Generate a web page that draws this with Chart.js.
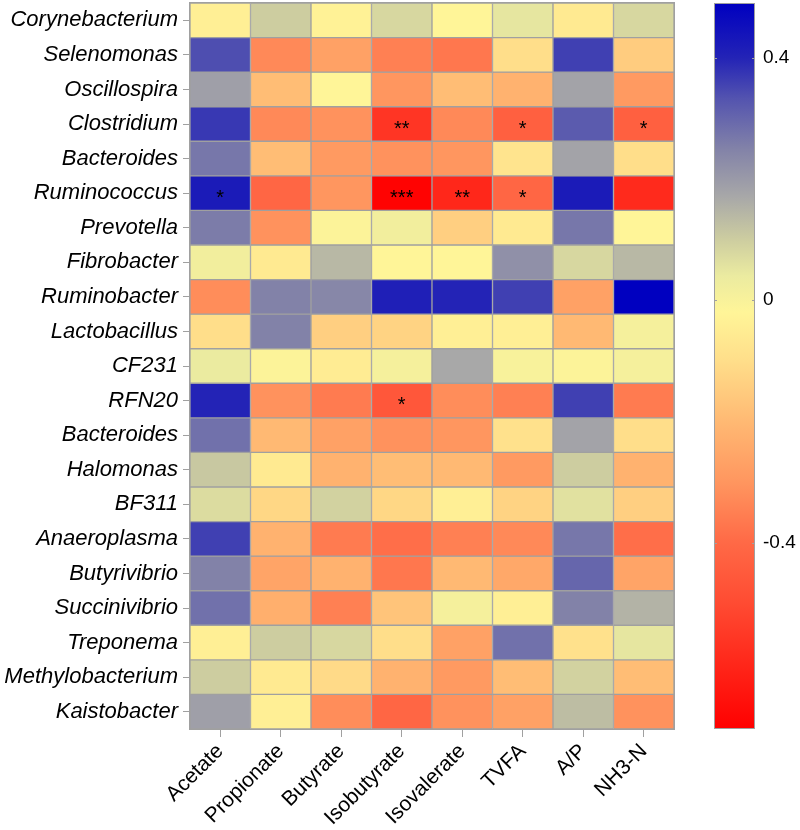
<!DOCTYPE html>
<html>
<head>
<meta charset="utf-8">
<script src="https://cdn.jsdelivr.net/npm/chart.js@4"></script>
<style>
  body { margin: 0; background: #fff; }
  #wrap { width: 800px; height: 830px; }
</style>
</head>
<body>
<div id="wrap"><canvas id="heat"></canvas></div>
<script>
// genera (rows, top to bottom)
const rowNames = ["Corynebacterium", "Selenomonas", "Oscillospira", "Clostridium", "Bacteroides",
  "Ruminococcus", "Prevotella", "Fibrobacter", "Ruminobacter", "Lactobacillus", "CF231", "RFN20",
  "Bacteroides", "Halomonas", "BF311", "Anaeroplasma", "Butyrivibrio", "Succinivibrio",
  "Treponema", "Methylobacterium", "Kaistobacter"];
const colNames = ["Acetate", "Propionate", "Butyrate", "Isobutyrate", "Isovalerate", "TVFA", "A/P", "NH3-N"];

// correlation per column, one value per row
const acetate     = [-0.04, 0.34, 0.19, 0.37, 0.27, 0.42, 0.26, 0.02, -0.32, -0.10, 0.04, 0.40, 0.28, 0.11, 0.07, 0.36, 0.25, 0.28, -0.04, 0.10, 0.19];
const propionate  = [0.10, -0.33, -0.19, -0.33, -0.19, -0.41, -0.31, -0.06, 0.25, 0.25, -0.01, -0.31, -0.20, -0.06, -0.12, -0.22, -0.26, -0.23, 0.10, -0.06, -0.04];
const butyrate    = [-0.03, -0.27, -0.02, -0.31, -0.29, -0.30, -0.01, 0.14, 0.24, -0.14, -0.05, -0.36, -0.27, -0.22, 0.09, -0.36, -0.22, -0.35, 0.08, -0.11, -0.32];
const isobutyrate = [0.08, -0.35, -0.30, -0.56, -0.31, -0.70, 0.02, -0.02, 0.41, -0.13, 0.01, -0.46, -0.31, -0.19, -0.12, -0.39, -0.37, -0.17, -0.10, -0.22, -0.41];
const isovalerate = [-0.02, -0.37, -0.19, -0.33, -0.30, -0.60, -0.14, -0.02, 0.40, -0.04, 0.17, -0.32, -0.30, -0.20, -0.04, -0.35, -0.20, 0.01, -0.27, -0.29, -0.31];
const tvfa        = [0.05, -0.10, -0.22, -0.43, -0.08, -0.41, -0.06, 0.22, 0.36, -0.04, 0.00, -0.35, -0.09, -0.29, -0.13, -0.33, -0.25, -0.04, 0.28, -0.19, -0.27];
const ap          = [-0.06, 0.36, 0.18, 0.32, 0.18, 0.42, 0.27, 0.08, -0.27, -0.20, -0.01, 0.36, 0.18, 0.10, 0.06, 0.27, 0.30, 0.25, -0.09, 0.09, 0.13];
const nh3n        = [0.08, -0.15, -0.29, -0.43, -0.10, -0.59, -0.02, 0.14, 0.49, 0.01, 0.01, -0.36, -0.10, -0.22, -0.14, -0.39, -0.26, 0.15, 0.05, -0.19, -0.31];
const columns = [acetate, propionate, butyrate, isobutyrate, isovalerate, tvfa, ap, nh3n];

// significance marks: [row, column, label]
const sigMarks = [
  [3, 3, "**"], [3, 5, "*"], [3, 7, "*"],
  [5, 0, "*"], [5, 3, "***"], [5, 4, "**"], [5, 5, "*"],
  [11, 3, "*"]
];

// colour bar
const scaleMin = -0.707;
const scaleMax = 0.49;
const scaleTicks = [-0.4, 0, 0.4];

const colorStops = [
  [-0.707, [255, 0, 0]],
  [-0.5, [255, 75, 50]],
  [-0.4, [255, 105, 70]],
  [-0.3, [255, 150, 95]],
  [-0.2, [255, 185, 115]],
  [-0.1, [255, 222, 138]],
  [-0.02, [255, 245, 152]],
  [0.04, [235, 235, 160]],
  [0.1, [205, 205, 160]],
  [0.17, [168, 168, 168]],
  [0.25, [130, 130, 168]],
  [0.33, [85, 85, 175]],
  [0.4, [35, 35, 182]],
  [0.49, [0, 0, 192]]
];

function colorFor(v) {
  if (v <= colorStops[0][0]) return rgb(colorStops[0][1]);
  for (let i = 1; i < colorStops.length; i++) {
    const [v1, c1] = colorStops[i];
    if (v <= v1) {
      const [v0, c0] = colorStops[i - 1];
      const t = (v - v0) / (v1 - v0);
      return rgb(c0.map((c, k) => c + (c1[k] - c) * t));
    }
  }
  return rgb(colorStops[colorStops.length - 1][1]);
}
function rgb(c) {
  return "rgb(" + c.map(Math.round).join(",") + ")";
}

const gridGray = "#A0A0A0";
const font = "'Liberation Sans', Arial, sans-serif";

// one dataset per row, floating bars [r, r+1] on a reversed y scale
const datasets = rowNames.map((name, r) => ({
  label: name,
  data: colNames.map(() => [r, r + 1]),
  backgroundColor: columns.map(col => colorFor(col[r])),
  borderColor: gridGray,
  borderWidth: 1,
  borderSkipped: false,
  barPercentage: 1,
  categoryPercentage: 1,
  grouped: false
}));

const extras = {
  id: "extras",
  afterDatasetsDraw(chart) {
    const ctx = chart.ctx;
    const x = chart.scales.x, y = chart.scales.y;
    const a = chart.chartArea;
    ctx.save();
    // outer frame
    ctx.strokeStyle = gridGray;
    ctx.lineWidth = 1;
    ctx.strokeRect(a.left - 0.5, a.top - 0.5, a.right - a.left + 1, a.bottom - a.top + 1);
    // significance stars
    ctx.fillStyle = "#000";
    ctx.font = "20px " + font;
    ctx.textAlign = "center";
    ctx.textBaseline = "middle";
    sigMarks.forEach(([r, c, s]) => {
      ctx.fillText(s, x.getPixelForValue(c), y.getPixelForValue(r + 0.5) + 5);
    });
    ctx.restore();
  },
  afterDraw(chart) {
    const ctx = chart.ctx;
    const cb = chart.scales.cb;
    const x0 = cb.left + 40, w = 41;
    const yTop = cb.getPixelForValue(scaleMax), yBot = cb.getPixelForValue(scaleMin);
    const g = ctx.createLinearGradient(0, yBot, 0, yTop);
    colorStops.forEach(([v, c]) => g.addColorStop((v - scaleMin) / (scaleMax - scaleMin), rgb(c)));
    ctx.save();
    ctx.fillStyle = g;
    ctx.fillRect(x0, yTop, w, yBot - yTop);
    ctx.strokeStyle = gridGray;
    ctx.lineWidth = 1;
    ctx.strokeRect(x0 + 0.5, yTop + 0.5, w - 1, yBot - yTop - 1);
    scaleTicks.forEach(t => {
      const py = Math.round(cb.getPixelForValue(t)) + 0.5;
      ctx.beginPath();
      ctx.moveTo(x0, py); ctx.lineTo(x0 + 3, py);
      ctx.moveTo(x0 + w - 3, py); ctx.lineTo(x0 + w, py);
      ctx.stroke();
    });
    ctx.restore();
  }
};

new Chart(document.getElementById("heat"), {
  type: "bar",
  data: { labels: colNames, datasets: datasets },
  plugins: [extras],
  options: {
    responsive: true,
    maintainAspectRatio: false,
    animation: false,
    layout: { padding: { top: 3, left: 0, right: 0, bottom: 0 } },
    plugins: { legend: { display: false }, tooltip: { enabled: false } },
    scales: {
      x: {
        grid: { offset: false, drawOnChartArea: false, color: gridGray, tickLength: 8 },
        border: { display: false },
        ticks: {
          color: "#000", minRotation: 45, maxRotation: 45, padding: 2,
          font: { family: font, size: 21 }
        },
        afterFit(s) { s.height = 101; s.paddingLeft = 0; s.paddingRight = 0; }
      },
      y: {
        type: "linear",
        min: 0, max: rowNames.length,
        reverse: true,
        grid: { drawOnChartArea: false, color: gridGray, tickLength: 7 },
        border: { display: false },
        afterBuildTicks(s) { s.ticks = rowNames.map((_, i) => ({ value: i + 0.5 })); },
        ticks: {
          color: "#000", padding: 5,
          font: { family: font, size: 22, style: "italic" },
          callback: v => rowNames[Math.floor(v)]
        },
        afterFit(s) { s.width = 190; s.paddingTop = 0; s.paddingBottom = 0; }
      },
      cb: {
        type: "linear",
        position: "right",
        min: scaleMin, max: scaleMax,
        grid: { display: false, drawTicks: false },
        border: { display: false },
        afterBuildTicks(s) { s.ticks = scaleTicks.map(v => ({ value: v })); },
        ticks: {
          color: "#000", padding: 89,
          font: { family: font, size: 19 },
          callback: v => String(v)
        },
        afterFit(s) { s.width = 126; s.paddingTop = 0; s.paddingBottom = 0; }
      }
    }
  }
});
</script>
</body>
</html>
